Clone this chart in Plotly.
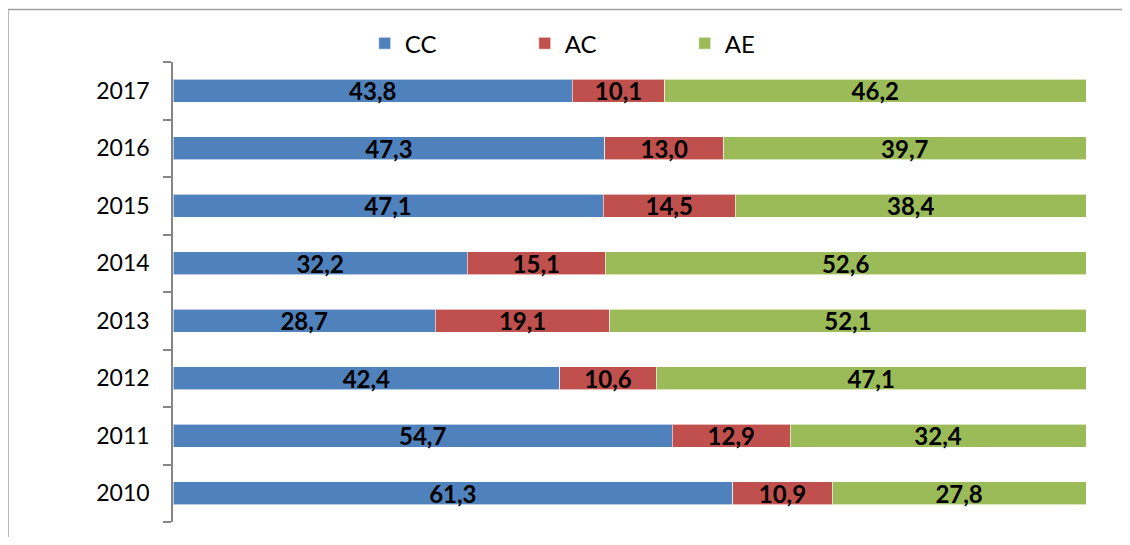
import plotly.graph_objects as go

years = ["2010", "2011", "2012", "2013", "2014", "2015", "2016", "2017"]
cc = [61.3, 54.7, 42.4, 28.7, 32.2, 47.1, 47.3, 43.8]
ac = [10.9, 12.9, 10.6, 19.1, 15.1, 14.5, 13.0, 10.1]
ae = [27.8, 32.4, 47.1, 52.1, 52.6, 38.4, 39.7, 46.2]

series = [("CC", cc, "#4F81BD"), ("AC", ac, "#C0504D"), ("AE", ae, "#9BBB59")]

FONT = "Lato"
fig = go.Figure()
for name, vals, color in series:
    fig.add_trace(go.Bar(
        y=years, x=vals, name=name, orientation="h",
        marker=dict(color=color, line=dict(color="rgba(255,255,255,0.6)", width=1)),
        text=[f"{v:.1f}".replace(".", ",") for v in vals],
        texttemplate="%{text}",
        textposition="inside", insidetextanchor="middle",
        constraintext="none", textangle=0,
        textfont=dict(family=FONT, size=24, color="black", weight="bold"),
        width=0.4,
    ))

fig.update_layout(
    barmode="stack", barnorm="percent",
    width=1114, height=529,
    margin=dict(l=165, r=36, t=54, b=15),
    paper_bgcolor="white", plot_bgcolor="white",
    font=dict(family=FONT, size=22, color="black"),
    showlegend=True,
    legend=dict(orientation="h", x=0.21, y=1.04, xanchor="left", yanchor="middle",
                entrywidth=115, entrywidthmode="pixels", traceorder="normal",
                font=dict(family=FONT, size=24, color="black"),
                bgcolor="rgba(0,0,0,0)"),
    xaxis=dict(visible=False, range=[0, 100], fixedrange=True),
    yaxis=dict(type="category", categoryorder="array", categoryarray=years,
               showline=True, linecolor="#868686", linewidth=1.5,
               ticks="outside", tickson="boundaries", ticklen=8, tickcolor="#868686", tickwidth=1.5,
               showgrid=False, tickfont=dict(family=FONT, size=23, color="black"),
               ticklabelstandoff=17),
    shapes=[dict(type="rect", xref="paper", yref="paper",
                 x0=(8 - 173) / 913, x1=(1129 - 173) / 913,
                 y0=-0.1, y1=(522 - 9.5) / 460,
                 line=dict(color="#A0A0A0", width=1.5), layer="below")],
)

fig.write_html("out.html")
